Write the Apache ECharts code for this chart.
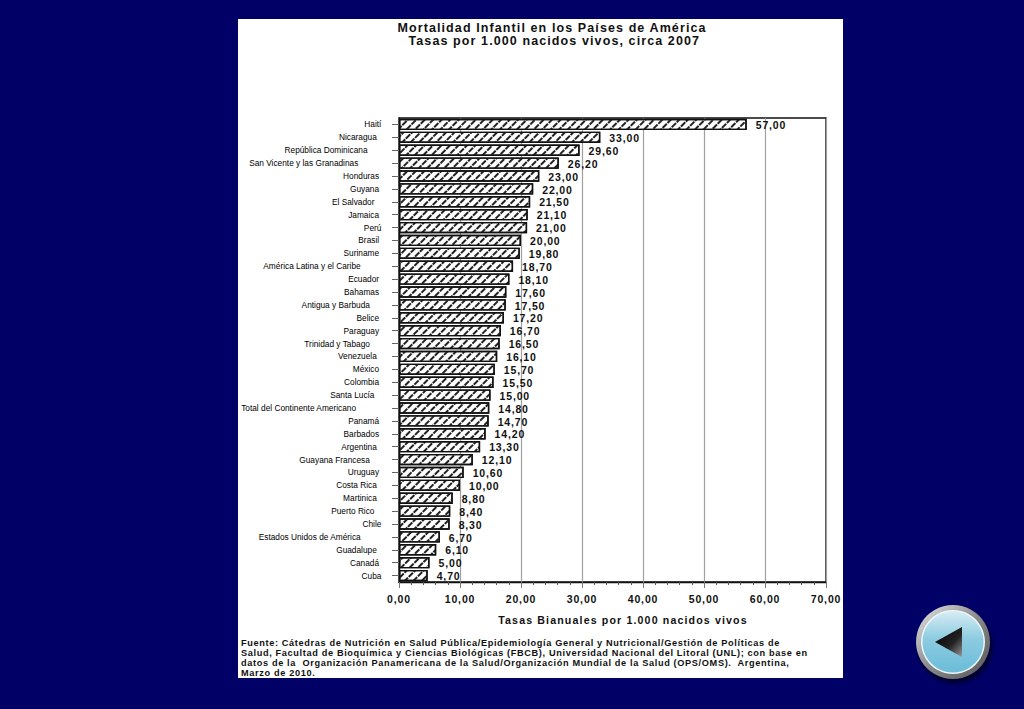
<!DOCTYPE html>
<html><head><meta charset="utf-8">
<style>html,body{margin:0;padding:0;background:#000066}#c{width:1024px;height:709px}
text[style*="12.5px"]{letter-spacing:1.1px}
text[style*="9.2px"]{letter-spacing:.64px}
text[style*="10.5px"]{letter-spacing:.85px}
text[style*="10.6px"]{letter-spacing:1.15px}
</style>
<script src="https://cdn.jsdelivr.net/npm/echarts@6/dist/echarts.min.js"></script>
</head><body><div id="c"></div>
<script>
const categories = ["Haití","Nicaragua","República Dominicana","San Vicente y las Granadinas","Honduras","Guyana","El Salvador","Jamaica","Perú","Brasil","Suriname","América Latina y el Caribe","Ecuador","Bahamas","Antigua y Barbuda","Belice","Paraguay","Trinidad y Tabago","Venezuela","México","Colombia","Santa Lucía","Total del Continente Americano","Panamá","Barbados","Argentina","Guayana Francesa","Uruguay","Costa Rica","Martinica","Puerto Rico","Chile","Estados Unidos de América","Guadalupe","Canadá","Cuba"];
const values = [57,33,29.6,26.2,23,22,21.5,21.1,21,20,19.8,18.7,18.1,17.6,17.5,17.2,16.7,16.5,16.1,15.7,15.5,15,14.8,14.7,14.2,13.3,12.1,10.6,10,8.8,8.4,8.3,6.7,6.1,5,4.7];
const titleLines = ["Mortalidad Infantil en los Países de América"," Tasas por 1.000 nacidos vivos, circa 2007"];
const axisName = "Tasas Bianuales por 1.000 nacidos vivos";
const sourceLines = ["Fuente: Cátedras de Nutrición en Salud Pública/Epidemiología General y Nutricional/Gestión de Políticas de","Salud, Facultad de Bioquímica y Ciencias Biológicas (FBCB), Universidad Nacional del Litoral (UNL); con base en","datos de la  Organización Panamericana de la Salud/Organización Mundial de la Salud (OPS/OMS).  Argentina,","Marzo de 2010."];
const fmt = v => v.toFixed(2).replace('.', ',');
const font = '"Liberation Sans", Arial, sans-serif';
const chart = echarts.init(document.getElementById('c'), null, {renderer:'svg'});
chart.setOption({
  animation:false,
  backgroundColor:'#000066',
  title:[
    {text:titleLines.join('\n'),left:547,top:16,textAlign:'center',textStyle:{fontFamily:font,fontSize:12.5,fontWeight:'bold',color:'#111',lineHeight:13.5}},
    {text:sourceLines.join('\n'),left:236,top:632.5,textStyle:{fontFamily:font,fontSize:9.2,fontWeight:'bold',color:'#111',lineHeight:10}}
  ],
  grid:{left:399,top:118,width:427,height:464,containLabel:false,show:true,borderColor:'#111',borderWidth:1.4,backgroundColor:'transparent'},
  xAxis:{type:'value',min:0,max:70,interval:10,
    axisLine:{show:true,lineStyle:{color:'#111',width:1.4}},
    axisTick:{show:true,length:6,lineStyle:{color:'#777'}},
    minorTick:{show:true,splitNumber:5,length:3,lineStyle:{color:'#555'}},
    splitLine:{show:true,lineStyle:{color:'#a0a0a0',width:1.2}},
    axisLabel:{formatter:fmt,margin:11,fontFamily:font,fontSize:10.5,fontWeight:'bold',color:'#111'},
    name:axisName,nameLocation:'middle',nameGap:32,nameTextStyle:{fontFamily:font,fontSize:10.6,fontWeight:'bold',color:'#111',padding:[0,0,0,21]}},
  yAxis:{type:'category',inverse:true,data:categories,
    axisLine:{show:true,lineStyle:{color:'#111',width:1.4}},
    axisTick:{show:true,alignWithLabel:true,length:7,lineStyle:{color:'#666'}},
    axisLabel:{interval:0,margin:13,fontFamily:font,fontSize:8.3,color:'#000',
      formatter:n=>n+'\u00a0'.repeat(Math.round(n.length*0.42))}},
  series:[{type:'bar',data:values,barWidth:'88%',
    itemStyle:{color:'#fff',borderColor:'#111',borderWidth:1.4,
      decal:{symbol:'rect',color:'#222',backgroundColor:'#fff',dashArrayX:[[6,1]],dashArrayY:[1.1,3.1],rotation:-Math.PI/4}},
    label:{show:true,position:'right',distance:9,offset:[0,0.7],formatter:p=>fmt(p.value),fontFamily:font,fontSize:10.5,fontWeight:'bold',color:'#111'}}],
  graphic:[
    {type:'rect',z:-5,shape:{x:238,y:19,width:605,height:659},style:{fill:'#fff'}},
    {type:'circle',z:10,shape:{cx:955,cy:646,r:42},style:{fill:new echarts.graphic.RadialGradient(0.5,0.5,0.5,[{offset:0,color:'rgba(0,0,0,.7)'},{offset:.85,color:'rgba(0,0,20,.6)'},{offset:1,color:'rgba(0,0,102,0)'}])}},
    {type:'circle',z:11,shape:{cx:953,cy:642,r:37},style:{fill:new echarts.graphic.LinearGradient(0,0,1,1,[{offset:0,color:'#e6e6e6'},{offset:.5,color:'#8a8a8a'},{offset:1,color:'#555'}])}},
    {type:'circle',z:12,shape:{cx:953,cy:642,r:32},style:{fill:'#eaf6fa'}},
    {type:'circle',z:13,shape:{cx:953,cy:642,r:30.5},style:{fill:new echarts.graphic.LinearGradient(0,0,0,1,[{offset:0,color:'#d6ecf3'},{offset:.45,color:'#8ccbe0'},{offset:1,color:'#6bbcd9'}])}},
    {type:'polygon',z:14,shape:{points:[[935,642],[962,627],[962,657]]},style:{fill:new echarts.graphic.LinearGradient(0,0,1,1,[{offset:0,color:'#000'},{offset:.6,color:'#222'},{offset:1,color:'#999'}])}}
  ]
});
</script></body></html>
